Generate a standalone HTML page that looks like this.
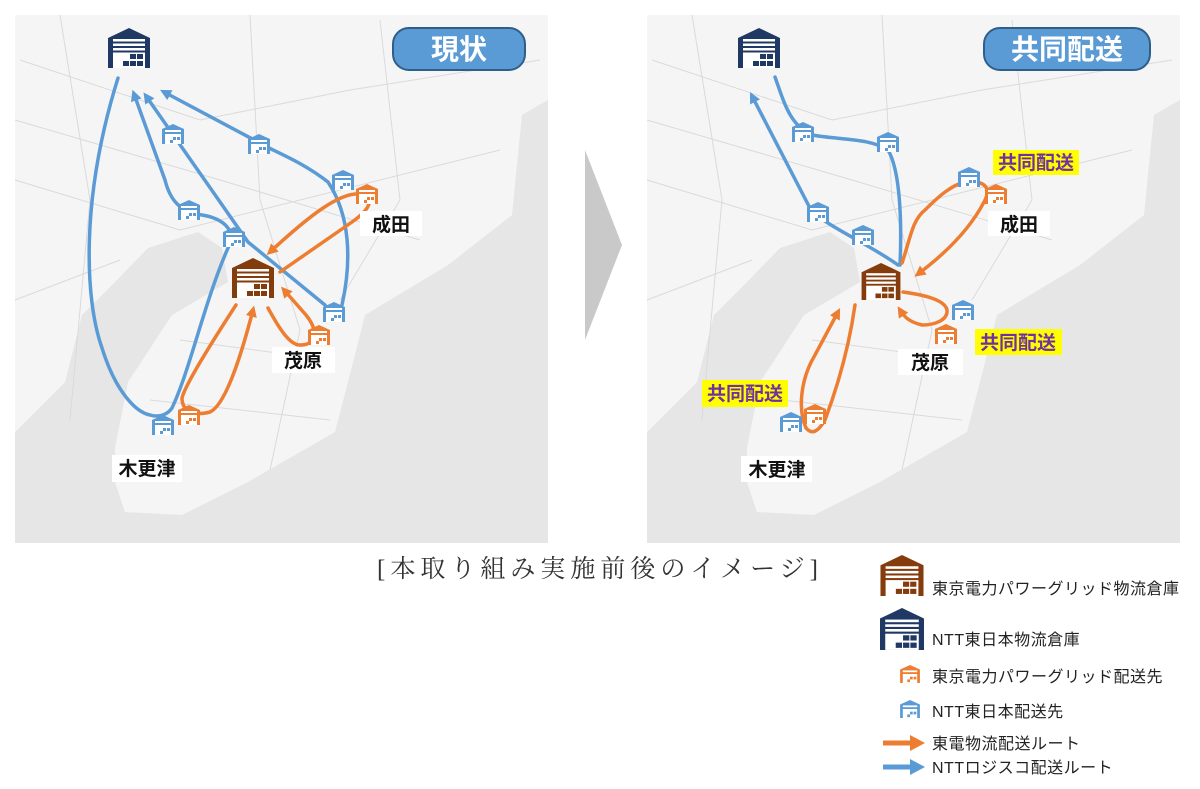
<!DOCTYPE html>
<html><head><meta charset="utf-8"><style>
html,body{margin:0;padding:0;background:#fff;width:1200px;height:789px;overflow:hidden}
svg{display:block}
.jp{font-family:"Liberation Sans","Noto Sans CJK JP",sans-serif}
</style></head><body>
<svg width="1200" height="789" viewBox="0 0 1200 789" xmlns="http://www.w3.org/2000/svg">
<defs>
<marker id="ab" viewBox="0 0 10 10" refX="6" refY="5" markerWidth="3.2" markerHeight="3.2" orient="auto"><path d="M0 0L10 5L0 10z" fill="#5b9bd5"/></marker>
<marker id="ao" viewBox="0 0 10 10" refX="6" refY="5" markerWidth="3.2" markerHeight="3.2" orient="auto"><path d="M0 0L10 5L0 10z" fill="#ed7d31"/></marker>
<symbol id="wh" viewBox="0 0 42 40"><path d="M0 10L21 0L42 10V40H0z" fill="currentColor"/><rect x="5" y="11" width="32" height="2.5" fill="#fff"/><rect x="5" y="15.5" width="32" height="2.5" fill="#fff"/><rect x="5" y="20" width="32" height="2.5" fill="#fff"/><rect x="5" y="24.5" width="32" height="15.5" fill="#fff"/><rect x="22" y="26" width="6" height="5" fill="currentColor"/><rect x="29" y="26" width="6" height="5" fill="currentColor"/><rect x="15" y="33" width="6" height="5" fill="currentColor"/><rect x="22" y="33" width="6" height="5" fill="currentColor"/><rect x="29" y="33" width="6" height="5" fill="currentColor"/></symbol>
<symbol id="sw" viewBox="0 0 22 20"><path d="M0 5L11 0L22 5V20H0z" fill="currentColor"/><rect x="3" y="6" width="16" height="2" fill="#fff"/><rect x="3" y="10" width="16" height="10" fill="#fff"/><rect x="11" y="13" width="3" height="3" fill="currentColor"/><rect x="15" y="13" width="3" height="3" fill="currentColor"/><rect x="8" y="16" width="3" height="3" fill="currentColor"/></symbol>
<g id="base">
<rect x="15" y="15" width="533" height="528" fill="#e6e6e6"/>
<path d="M15 15H548V100L522 115L512 215L448 265L365 315L348 382L335 432L248 482L182 515L125 512L115 482L115 448L128 382L172 315L228 282L222 248L198 232L148 248L115 282L82 315L65 382L15 432Z" fill="#f5f5f5"/>
<g stroke="#dadada" stroke-width="1" fill="none">
<path d="M20 60L200 120L350 90L540 60"/><path d="M60 15L90 200L70 420"/><path d="M15 180L180 230L300 200L500 150"/><path d="M250 15L260 200L300 330L270 470"/><path d="M15 300L120 260"/><path d="M180 340L330 360"/><path d="M380 20L400 200L340 300"/><path d="M15 120L220 180L420 240"/><path d="M150 400L330 420"/>
</g>
</g>
</defs>

<use href="#base"/>
<use href="#base" transform="translate(632,0)"/>

<path d="M585 150L622 245L585 340Z" fill="#c9c9c9"/>

<!-- LEFT MAP -->
<g fill="none" stroke="#5b9bd5" stroke-width="3.5" stroke-linecap="round">
<path d="M118 78C80 200 85 300 102 348C115 390 135 412 150 415C160 418 168 414 172 408C190 370 205 300 228 248C238 228 220 218 202 215C180 212 170 200 165 180L134 94" marker-end="url(#ab)"/>
<path d="M325 305L248 242L146 96" marker-end="url(#ab)"/>
<path d="M342 305C352 260 350 215 328 182C300 160 270 150 258 142L164 92" marker-end="url(#ab)"/>
</g>
<g fill="none" stroke="#ed7d31" stroke-width="3.5" stroke-linecap="round">
<path d="M280 272L352 222C372 208 375 196 360 194C340 192 310 215 270 252" marker-end="url(#ao)"/>
<path d="M268 308C280 330 290 345 300 345C318 345 318 330 306 315L284 290" marker-end="url(#ao)"/>
<path d="M236 305C210 345 185 385 182 398C182 412 195 416 210 412C225 405 240 360 253 310" marker-end="url(#ao)"/>
</g>
<g style="color:#1f3864"><use href="#wh" x="108" y="28" width="42" height="40"/></g>
<g style="color:#843c0c"><use href="#wh" x="232" y="258" width="42" height="40"/></g>
<g style="color:#5b9bd5">
<use href="#sw" x="162" y="124" width="22" height="20"/><use href="#sw" x="248" y="134" width="22" height="20"/><use href="#sw" x="332" y="170" width="22" height="20"/><use href="#sw" x="178" y="200" width="22" height="20"/><use href="#sw" x="223" y="227" width="22" height="20"/><use href="#sw" x="323" y="302" width="22" height="20"/><use href="#sw" x="152" y="415" width="22" height="20"/>
</g>
<g style="color:#ed7d31">
<use href="#sw" x="356" y="184" width="22" height="20"/><use href="#sw" x="308" y="325" width="22" height="20"/><use href="#sw" x="178" y="405" width="22" height="20"/>
</g>
<rect x="393" y="28" width="132" height="42" rx="16" fill="#5b9bd5" stroke="#2e5f8a" stroke-width="2"/>
<text x="459" y="59" text-anchor="middle" class="jp" font-size="28" font-weight="bold" fill="#fff">現状</text>
<rect x="360" y="211" width="62" height="25" fill="#fff"/>
<text x="391" y="231" text-anchor="middle" class="jp" font-size="19" font-weight="bold" fill="#111">成田</text>
<rect x="272" y="347" width="63" height="26" fill="#fff"/>
<text x="303" y="367" text-anchor="middle" class="jp" font-size="19" font-weight="bold" fill="#111">茂原</text>
<rect x="112" y="455" width="70" height="27" fill="#fff"/>
<text x="147" y="475" text-anchor="middle" class="jp" font-size="19" font-weight="bold" fill="#111">木更津</text>

<!-- RIGHT MAP -->
<g fill="none" stroke="#5b9bd5" stroke-width="3.5" stroke-linecap="round">
<path d="M898 265C870 245 835 230 812 212L752 96" marker-end="url(#ab)"/>
<path d="M775 77C785 105 790 125 812 135C840 140 870 138 888 150C900 170 902 220 900 265"/>
</g>
<g fill="none" stroke="#ed7d31" stroke-width="3.5" stroke-linecap="round">
<path d="M902 263C910 240 912 220 925 210C940 195 952 185 965 182C985 180 992 188 984 202C972 225 950 250 918 274" marker-end="url(#ao)"/>
<path d="M903 292C925 295 945 300 947 310C948 320 935 325 922 325C910 322 905 318 900 310" marker-end="url(#ao)"/>
<path d="M855 305C850 340 840 380 825 420C818 432 812 435 806 428C798 410 800 380 815 355L838 312" marker-end="url(#ao)"/>
</g>
<g style="color:#1f3864"><use href="#wh" x="738" y="28" width="42" height="40"/></g>
<g style="color:#843c0c"><use href="#wh" x="860" y="263" width="42" height="37"/></g>
<g style="color:#5b9bd5">
<use href="#sw" x="792" y="122" width="22" height="20"/><use href="#sw" x="877" y="132" width="22" height="20"/><use href="#sw" x="958" y="167" width="22" height="20"/><use href="#sw" x="807" y="202" width="22" height="20"/><use href="#sw" x="852" y="225" width="22" height="20"/><use href="#sw" x="952" y="300" width="22" height="20"/><use href="#sw" x="780" y="412" width="22" height="20"/>
</g>
<g style="color:#ed7d31">
<use href="#sw" x="985" y="184" width="22" height="20"/><use href="#sw" x="935" y="324" width="22" height="20"/><use href="#sw" x="804" y="404" width="22" height="20"/>
</g>
<rect x="984" y="28" width="166" height="42" rx="16" fill="#5b9bd5" stroke="#2e5f8a" stroke-width="2"/>
<text x="1067" y="59" text-anchor="middle" class="jp" font-size="28" font-weight="bold" fill="#fff">共同配送</text>
<rect x="988" y="211" width="62" height="25" fill="#fff"/>
<text x="1019" y="231" text-anchor="middle" class="jp" font-size="19" font-weight="bold" fill="#111">成田</text>
<rect x="898" y="349" width="65" height="26" fill="#fff"/>
<text x="930" y="369" text-anchor="middle" class="jp" font-size="19" font-weight="bold" fill="#111">茂原</text>
<rect x="741" y="456" width="71" height="26" fill="#fff"/>
<text x="777" y="476" text-anchor="middle" class="jp" font-size="19" font-weight="bold" fill="#111">木更津</text>
<rect x="993" y="150" width="86" height="25" fill="#ffff00"/>
<text x="1036" y="169" text-anchor="middle" class="jp" font-size="19" font-weight="bold" fill="#7030a0">共同配送</text>
<rect x="975" y="329" width="87" height="26" fill="#ffff00"/>
<text x="1018" y="349" text-anchor="middle" class="jp" font-size="19" font-weight="bold" fill="#7030a0">共同配送</text>
<rect x="702" y="380" width="86" height="27" fill="#ffff00"/>
<text x="745" y="400" text-anchor="middle" class="jp" font-size="19" font-weight="bold" fill="#7030a0">共同配送</text>

<!-- caption -->
<text x="600" y="577" text-anchor="middle" font-family="'Liberation Serif','Noto Serif CJK JP',serif" font-size="25" letter-spacing="5" fill="#333">[本取り組み実施前後のイメージ]</text>

<!-- legend -->
<g style="color:#843c0c"><use href="#wh" x="880" y="555" width="44" height="41"/></g>
<text x="932" y="594" class="jp" font-size="16" letter-spacing="0.5" fill="#222">東京電力パワーグリッド物流倉庫</text>
<g style="color:#1f3864"><use href="#wh" x="880" y="608" width="44" height="42"/></g>
<text x="932" y="645" class="jp" font-size="16" letter-spacing="0.5" fill="#222">NTT東日本物流倉庫</text>
<g style="color:#ed7d31"><use href="#sw" x="900" y="665" width="20" height="18"/></g>
<text x="932" y="682" class="jp" font-size="16" letter-spacing="0.5" fill="#222">東京電力パワーグリッド配送先</text>
<g style="color:#5b9bd5"><use href="#sw" x="900" y="700" width="20" height="18"/></g>
<text x="932" y="717" class="jp" font-size="16" letter-spacing="0.5" fill="#222">NTT東日本配送先</text>
<path d="M883 743H912" stroke="#ed7d31" stroke-width="5"/><path d="M910 735L925 743L910 751Z" fill="#ed7d31"/>
<text x="932" y="749" class="jp" font-size="16" letter-spacing="0.5" fill="#222">東電物流配送ルート</text>
<path d="M883 767H912" stroke="#5b9bd5" stroke-width="5"/><path d="M910 759L925 767L910 775Z" fill="#5b9bd5"/>
<text x="932" y="773" class="jp" font-size="16" letter-spacing="0.5" fill="#222">NTTロジスコ配送ルート</text>
</svg>
</body></html>
